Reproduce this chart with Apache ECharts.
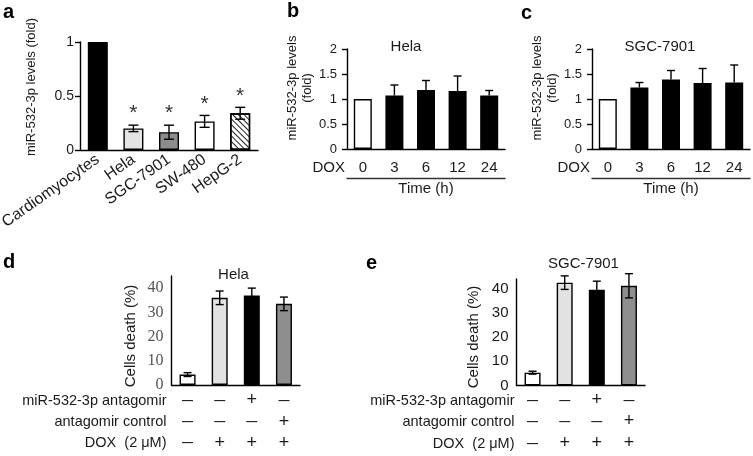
<!DOCTYPE html>
<html><head><meta charset="utf-8">
<script src="https://cdn.jsdelivr.net/npm/echarts@6/dist/echarts.min.js"></script>
<style>html,body{margin:0;padding:0;background:#fff}#c{width:753px;height:456px}</style>
</head><body><div id="c"></div>
<script>
// ---------- data ----------
// panel a
const aCategories = ['Cardiomyocytes', 'Hela', 'SGC-7901', 'SW-480', 'HepG-2'];
const aValues = [1, 0.2, 0.165, 0.265, 0.34];
const aErrors = [0, 0.03, 0.065, 0.055, 0.055];
const aMarks = ['', '*', '*', '*', '*'];
// panels b, c
const timeLabels = ['0', '3', '6', '12', '24'];
const bValues = [1, 1.07, 1.18, 1.16, 1.07];
const bErrors = [0, 0.21, 0.19, 0.3, 0.1];
const cValues = [1, 1.23, 1.39, 1.32, 1.33];
const cErrors = [0, 0.1, 0.18, 0.29, 0.35];
// panels d, e
const groups = ['G1', 'G2', 'G3', 'G4'];
const antagomirRow = ['\u2014', '\u2014', '+', '\u2014'];
const controlRow = ['\u2014', '\u2014', '\u2014', '+'];
const doxRow = ['\u2014', '+', '+', '+'];
const dValues = [4.3, 36, 37, 33.5];
const dErrors = [0.8, 2.8, 3, 2.8];
const eValues = [5.3, 42.5, 39.6, 41.2];
const eErrors = [0.6, 2.8, 3.5, 5];

// ---------- styles ----------
const FONT = 'Arial, "Liberation Sans", Helvetica, sans-serif';
const SERIF = '"Liberation Serif", "Times New Roman", serif';
const TXT = '#1a1a1a';
const aFills = ['#000000', '#e4e4e4', '#8c8c8c', '#ffffff', '#ffffff'];
const aHatch = [false, false, false, false, true];
const tFills = ['#ffffff', '#000000', '#000000', '#000000', '#000000'];
const gFills = ['#ffffff', '#e2e2e2', '#000000', '#8e8e8e'];

const chart = echarts.init(document.getElementById('c'), null, {renderer: 'canvas'});

const lineStyle = {color: '#000', width: 1.4};
const grids = [
  {left: 80, top: 42, width: 178, height: 108},
  {left: 347, top: 49, width: 158, height: 100},
  {left: 592, top: 49, width: 158, height: 100},
  {left: 171.5, top: 276, width: 128.5, height: 109},
  {left: 516.5, top: 279, width: 128.5, height: 106.5}
].map(g => Object.assign({outerBoundsMode: 'none', containLabel: false}, g));

function mainX(grid, data, extra) {
  return Object.assign({
    type: 'category', gridIndex: grid, data: data, position: 'bottom',
    axisLine: {show: true, onZero: false, lineStyle: lineStyle},
    axisTick: {show: false}, axisLabel: {show: false}, splitLine: {show: false}
  }, extra || {});
}
function rowX(grid, data, offset, name, fs, nameFs, gap, signs) {
  const label = {show: true, interval: 0, margin: 0, verticalAlign: 'middle', fontSize: fs, color: TXT, fontFamily: FONT};
  if (signs) {
    label.formatter = v => (v === '+' ? '{p|+}' : '{m|' + v + '}');
    label.rich = {
      p: {fontSize: 18, color: TXT, fontFamily: FONT, verticalAlign: 'middle'},
      m: {fontSize: 11, color: TXT, fontFamily: FONT, fontWeight: 'bold', verticalAlign: 'middle'}
    };
  }
  return {
    type: 'category', gridIndex: grid, data: data, position: 'bottom', offset: offset,
    axisLine: {show: false, onZero: false}, axisTick: {show: false}, splitLine: {show: false},
    axisLabel: label,
    name: name, nameLocation: 'start', nameGap: gap,
    nameTextStyle: {fontSize: nameFs, color: TXT, fontFamily: FONT, verticalAlign: 'middle', align: 'right'}
  };
}
function timeX(grid, offset) {
  return {
    type: 'category', gridIndex: grid, data: timeLabels, position: 'bottom', offset: offset,
    axisLine: {show: true, onZero: false, lineStyle: {color: '#333', width: 1.4}},
    axisTick: {show: false}, axisLabel: {show: false}, splitLine: {show: false},
    name: 'Time (h)', nameLocation: 'middle', nameGap: 3,
    nameTextStyle: {fontSize: 15, color: TXT, fontFamily: FONT, verticalAlign: 'top'}
  };
}

const xAxis = [
  mainX(0, aCategories, {axisLabel: {show: true, interval: 0, rotate: 35, margin: 8, fontSize: 16, color: TXT, fontFamily: FONT}}), // 0
  mainX(1, timeLabels),                                  // 1
  rowX(1, timeLabels, 19, 'DOX', 15, 15, 2),             // 2
  timeX(1, 29),                                          // 3
  mainX(2, timeLabels),                                  // 4
  rowX(2, timeLabels, 19, 'DOX', 15, 15, 2),             // 5
  timeX(2, 29),                                          // 6
  mainX(3, groups),                                      // 7
  rowX(3, antagomirRow, 15.5, 'miR-532-3p antagomir', 18, 14.5, 5, true), // 8
  rowX(3, controlRow, 37, 'antagomir control', 18, 14.5, 5, true),        // 9
  rowX(3, doxRow, 58, 'DOX  (2 \u03bcM)', 18, 14.5, 5, true),            // 10
  mainX(4, groups),                                      // 11
  rowX(4, antagomirRow, 15, 'miR-532-3p antagomir', 18, 14.5, 2, true),   // 12
  rowX(4, controlRow, 36, 'antagomir control', 18, 14.5, 2, true),        // 13
  rowX(4, doxRow, 58, 'DOX  (2 \u03bcM)', 18, 14.5, 2, true)             // 14
];

function valY(grid, max, interval, extra) {
  return Object.assign({
    type: 'value', gridIndex: grid, min: 0, max: max, interval: interval,
    axisLine: {show: true, lineStyle: lineStyle},
    axisTick: {show: true, length: 5, lineStyle: lineStyle},
    splitLine: {show: false},
    axisLabel: {fontSize: 14, color: TXT, fontFamily: FONT, margin: 6}
  }, extra || {});
}
const yAxis = [
  valY(0, 1, 0.5),
  valY(1, 2, 0.5, {axisLabel: {fontSize: 13, color: TXT, fontFamily: FONT, margin: 10}}),
  valY(2, 2, 0.5, {axisLabel: {fontSize: 13, color: TXT, fontFamily: FONT, margin: 10}}),
  valY(3, 45, 10, {axisTick: {show: false}, axisLabel: {fontSize: 16, color: '#555', fontFamily: SERIF, margin: 8, showMaxLabel: false}}),
  valY(4, 44, 10, {axisTick: {show: false}, axisLabel: {fontSize: 15, color: TXT, fontFamily: FONT, margin: 8, showMaxLabel: false}})
];

function barSeries(xi, yi, values, fills, width, hatch) {
  return {
    type: 'bar', xAxisIndex: xi, yAxisIndex: yi, barWidth: width, z: 2,
    data: values.map((v, i) => {
      const st = {color: fills[i], borderColor: '#000', borderWidth: 1.4};
      if (hatch && hatch[i]) {
        st.decal = {symbol: 'rect', symbolSize: 1, dashArrayX: [1, 0], dashArrayY: [1, 2.6], rotation: Math.PI / 4, color: '#222'};
      }
      return {value: v, itemStyle: st};
    }),
    animation: false
  };
}
function errSeries(xi, yi, values, errors, cap, upOnly, marks) {
  return {
    type: 'custom', xAxisIndex: xi, yAxisIndex: yi, z: 5, animation: false,
    data: values.map((v, i) => [i, v, errors[i]]),
    renderItem: function (params, api) {
      const i = api.value(0), v = api.value(1), e = api.value(2);
      const top = api.coord([i, v + e]);
      const bot = api.coord([i, upOnly ? v : v - e]);
      const st = {stroke: '#000', lineWidth: 1.4};
      const ch = [];
      if (e > 0) {
        ch.push({type: 'line', shape: {x1: top[0], y1: top[1], x2: bot[0], y2: bot[1]}, style: st});
        ch.push({type: 'line', shape: {x1: top[0] - cap, y1: top[1], x2: top[0] + cap, y2: top[1]}, style: st});
        if (!upOnly) ch.push({type: 'line', shape: {x1: bot[0] - cap, y1: bot[1], x2: bot[0] + cap, y2: bot[1]}, style: st});
      }
      const m = marks ? marks[params.dataIndex] : '';
      if (m) ch.push({type: 'text', x: top[0], y: top[1] - 1, style: {text: m, font: '21px ' + FONT, fill: '#333', align: 'center', verticalAlign: 'bottom'}});
      return {type: 'group', children: ch};
    }
  };
}

const series = [
  barSeries(0, 0, aValues, aFills, 20, aHatch),
  errSeries(0, 0, aValues, aErrors, 5, false, aMarks),
  barSeries(1, 1, bValues, tFills, 18),
  errSeries(1, 1, bValues, bErrors, 4, true),
  barSeries(4, 2, cValues, tFills, 18),
  errSeries(4, 2, cValues, cErrors, 4, true),
  barSeries(7, 3, dValues, gFills, 16),
  errSeries(7, 3, dValues, dErrors, 4, false),
  barSeries(11, 4, eValues, gFills, 16),
  errSeries(11, 4, eValues, eErrors, 4, false)
];

function txt(x, y, text, fs, opts) {
  return Object.assign({
    type: 'text', x: x, y: y, silent: true,
    style: Object.assign({text: text, font: fs + 'px ' + FONT, fill: TXT, align: 'center', verticalAlign: 'middle'}, (opts && opts.style) || {})
  }, opts && opts.rotation !== undefined ? {rotation: opts.rotation} : {});
}
const boldStyle = (fs) => ({style: {font: 'bold ' + fs + 'px ' + FONT, fill: '#000', align: 'left'}});
const graphic = [
  txt(3, 12, 'a', 20, boldStyle(20)),
  txt(287, 11, 'b', 20, boldStyle(20)),
  txt(521, 13, 'c', 20, boldStyle(20)),
  txt(3, 262, 'd', 20, boldStyle(20)),
  txt(366, 263, 'e', 20, boldStyle(20)),
  txt(406, 47, 'Hela', 15),
  txt(660, 47, 'SGC-7901', 15),
  txt(233.5, 275, 'Hela', 15),
  txt(583.5, 264, 'SGC-7901', 15),
  txt(31, 87, 'miR-532-3p levels (fold)', 13, {rotation: Math.PI / 2}),
  txt(299.5, 88, 'miR-532-3p levels\n(fold)', 13, {rotation: Math.PI / 2, style: {lineHeight: 15}}),
  txt(544.5, 88, 'miR-532-3p levels\n(fold)', 13, {rotation: Math.PI / 2, style: {lineHeight: 15}}),
  txt(131, 336, 'Cells death (%)', 15, {rotation: Math.PI / 2}),
  txt(474, 337, 'Cells death (%)', 15, {rotation: Math.PI / 2})
];

chart.setOption({
  backgroundColor: '#fff',
  animation: false,
  grid: grids,
  xAxis: xAxis,
  yAxis: yAxis,
  series: series,
  graphic: graphic
});
</script></body></html>
